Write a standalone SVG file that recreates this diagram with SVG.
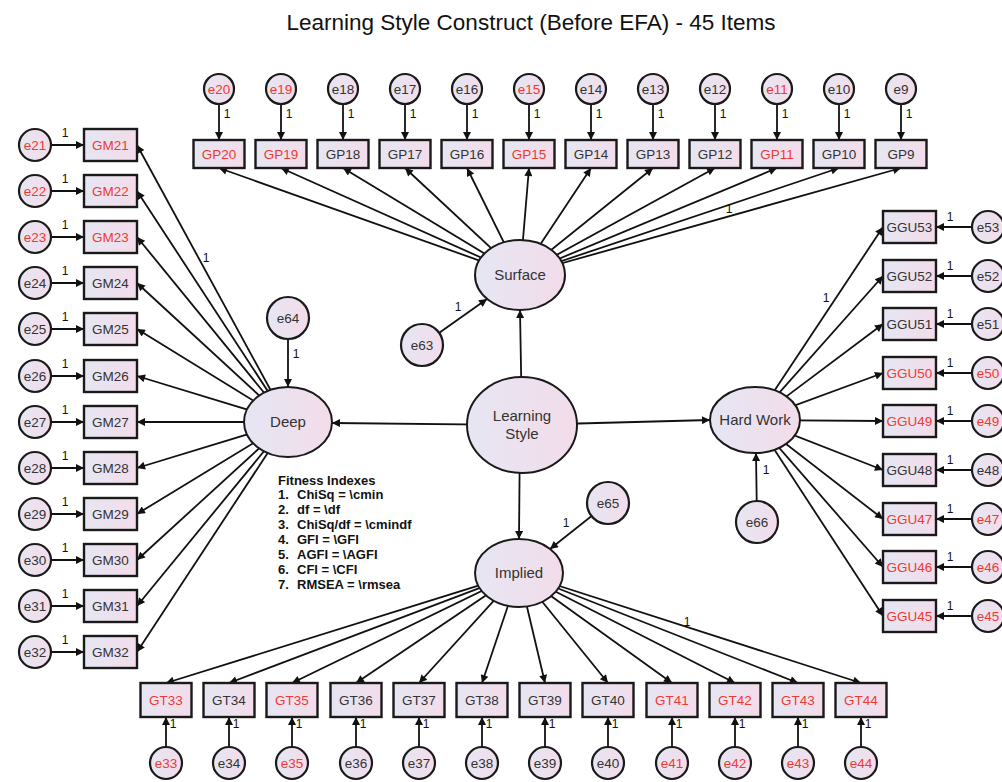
<svg xmlns="http://www.w3.org/2000/svg" width="1002" height="782" viewBox="0 0 1002 782">
<defs>
<linearGradient id="g" x1="0" y1="0" x2="1" y2="0">
<stop offset="0" stop-color="#e6e6f3"/>
<stop offset="1" stop-color="#f3dcea"/>
</linearGradient>
<marker id="ah" viewBox="0 0 10 10" refX="10" refY="5" markerWidth="11" markerHeight="8" markerUnits="userSpaceOnUse" orient="auto">
<path d="M0,0 L10,5 L0,10 z" fill="#111"/>
</marker>
<style>
.box{fill:url(#g);stroke:#1a1a1a;stroke-width:2.4}
.err{fill:url(#g);stroke:#1a1a1a;stroke-width:2.2}
.lat{fill:url(#g);stroke:#1a1a1a;stroke-width:2}
text{font-family:"Liberation Sans",Arial,sans-serif}
.t{font-size:13.5px;fill:#333;text-anchor:middle}
.r{fill:#ee3a33}
.lt{font-size:15px;fill:#333;text-anchor:middle}
.one{font-size:12px;fill:#111;text-anchor:middle}
.fit{font-size:13px;font-weight:bold;fill:#111}
#connectors line{stroke:#111;stroke-width:1.8;fill:none;marker-end:url(#ah)}
</style>
</defs>
<rect width="1002" height="782" fill="#fff"/>
<text x="531" y="30" font-size="22.5" fill="#111" text-anchor="middle">Learning Style Construct (Before EFA) - 45 Items</text>

<g id="connectors">
<line x1="522" y1="425" x2="520" y2="310"/>
<line x1="522" y1="425" x2="332" y2="423"/>
<line x1="522" y1="425" x2="710" y2="420"/>
<line x1="520" y1="425" x2="519" y2="539"/>
<line x1="422" y1="345" x2="487" y2="299"/>
<line x1="288" y1="318" x2="288" y2="387"/>
<line x1="757" y1="522" x2="756" y2="453"/>
<line x1="608" y1="503" x2="550" y2="549"/>
<line x1="520" y1="275" x2="219" y2="168"/>
<line x1="520" y1="275" x2="281" y2="168"/>
<line x1="520" y1="275" x2="343" y2="168"/>
<line x1="520" y1="275" x2="405" y2="168"/>
<line x1="520" y1="275" x2="467" y2="168"/>
<line x1="520" y1="275" x2="529" y2="168"/>
<line x1="520" y1="275" x2="591" y2="168"/>
<line x1="520" y1="275" x2="653" y2="168"/>
<line x1="520" y1="275" x2="715" y2="168"/>
<line x1="520" y1="275" x2="777" y2="168"/>
<line x1="520" y1="275" x2="839" y2="168"/>
<line x1="520" y1="275" x2="901" y2="168"/>
<line x1="288" y1="422" x2="137" y2="145"/>
<line x1="288" y1="422" x2="137" y2="191"/>
<line x1="288" y1="422" x2="137" y2="237"/>
<line x1="288" y1="422" x2="137" y2="283"/>
<line x1="288" y1="422" x2="137" y2="329"/>
<line x1="288" y1="422" x2="137" y2="376"/>
<line x1="288" y1="422" x2="137" y2="422"/>
<line x1="288" y1="422" x2="137" y2="468"/>
<line x1="288" y1="422" x2="137" y2="514"/>
<line x1="288" y1="422" x2="137" y2="560"/>
<line x1="288" y1="422" x2="137" y2="606"/>
<line x1="288" y1="422" x2="137" y2="652"/>
<line x1="755" y1="420" x2="883" y2="227"/>
<line x1="755" y1="420" x2="883" y2="276"/>
<line x1="755" y1="420" x2="883" y2="324"/>
<line x1="755" y1="420" x2="883" y2="373"/>
<line x1="755" y1="420" x2="883" y2="421"/>
<line x1="755" y1="420" x2="883" y2="470"/>
<line x1="755" y1="420" x2="883" y2="519"/>
<line x1="755" y1="420" x2="883" y2="567"/>
<line x1="755" y1="420" x2="883" y2="616"/>
<line x1="519" y1="573" x2="166" y2="683"/>
<line x1="519" y1="573" x2="229" y2="683"/>
<line x1="519" y1="573" x2="292" y2="683"/>
<line x1="519" y1="573" x2="356" y2="683"/>
<line x1="519" y1="573" x2="419" y2="683"/>
<line x1="519" y1="573" x2="482" y2="683"/>
<line x1="519" y1="573" x2="545" y2="683"/>
<line x1="519" y1="573" x2="608" y2="683"/>
<line x1="519" y1="573" x2="672" y2="683"/>
<line x1="519" y1="573" x2="735" y2="683"/>
<line x1="519" y1="573" x2="798" y2="683"/>
<line x1="519" y1="573" x2="861" y2="683"/>
<line x1="219" y1="104" x2="219" y2="140"/>
<line x1="281" y1="104" x2="281" y2="140"/>
<line x1="343" y1="104" x2="343" y2="140"/>
<line x1="405" y1="104" x2="405" y2="140"/>
<line x1="467" y1="104" x2="467" y2="140"/>
<line x1="529" y1="104" x2="529" y2="140"/>
<line x1="591" y1="104" x2="591" y2="140"/>
<line x1="653" y1="104" x2="653" y2="140"/>
<line x1="715" y1="104" x2="715" y2="140"/>
<line x1="777" y1="104" x2="777" y2="140"/>
<line x1="839" y1="104" x2="839" y2="140"/>
<line x1="901" y1="104" x2="901" y2="140"/>
<line x1="51" y1="145" x2="84" y2="145"/>
<line x1="51" y1="191" x2="84" y2="191"/>
<line x1="51" y1="237" x2="84" y2="237"/>
<line x1="51" y1="283" x2="84" y2="283"/>
<line x1="51" y1="329" x2="84" y2="329"/>
<line x1="51" y1="376" x2="84" y2="376"/>
<line x1="51" y1="422" x2="84" y2="422"/>
<line x1="51" y1="468" x2="84" y2="468"/>
<line x1="51" y1="514" x2="84" y2="514"/>
<line x1="51" y1="560" x2="84" y2="560"/>
<line x1="51" y1="606" x2="84" y2="606"/>
<line x1="51" y1="652" x2="84" y2="652"/>
<line x1="972" y1="227" x2="936" y2="227"/>
<line x1="972" y1="276" x2="936" y2="276"/>
<line x1="972" y1="324" x2="936" y2="324"/>
<line x1="972" y1="373" x2="936" y2="373"/>
<line x1="972" y1="421" x2="936" y2="421"/>
<line x1="972" y1="470" x2="936" y2="470"/>
<line x1="972" y1="519" x2="936" y2="519"/>
<line x1="972" y1="567" x2="936" y2="567"/>
<line x1="972" y1="616" x2="936" y2="616"/>
<line x1="166" y1="747" x2="166" y2="717"/>
<line x1="229" y1="747" x2="229" y2="717"/>
<line x1="292" y1="747" x2="292" y2="717"/>
<line x1="356" y1="747" x2="356" y2="717"/>
<line x1="419" y1="747" x2="419" y2="717"/>
<line x1="482" y1="747" x2="482" y2="717"/>
<line x1="545" y1="747" x2="545" y2="717"/>
<line x1="608" y1="747" x2="608" y2="717"/>
<line x1="672" y1="747" x2="672" y2="717"/>
<line x1="735" y1="747" x2="735" y2="717"/>
<line x1="798" y1="747" x2="798" y2="717"/>
<line x1="861" y1="747" x2="861" y2="717"/>
</g>

<g id="edge-labels">
<text class="one" x="458" y="311">1</text>
<text class="one" x="296" y="358">1</text>
<text class="one" x="766" y="474">1</text>
<text class="one" x="566" y="527">1</text>
<text class="one" x="206" y="262">1</text>
<text class="one" x="729" y="213">1</text>
<text class="one" x="826" y="302">1</text>
<text class="one" x="687" y="626">1</text>
<text class="one" x="227" y="118">1</text><text class="one" x="289" y="118">1</text><text class="one" x="351" y="118">1</text><text class="one" x="413" y="118">1</text><text class="one" x="475" y="118">1</text><text class="one" x="537" y="118">1</text><text class="one" x="599" y="118">1</text><text class="one" x="661" y="118">1</text><text class="one" x="723" y="118">1</text><text class="one" x="785" y="118">1</text><text class="one" x="847" y="118">1</text><text class="one" x="909" y="118">1</text>
<text class="one" x="65" y="137">1</text><text class="one" x="65" y="183">1</text><text class="one" x="65" y="229">1</text><text class="one" x="65" y="275">1</text><text class="one" x="65" y="321">1</text><text class="one" x="65" y="368">1</text><text class="one" x="65" y="414">1</text><text class="one" x="65" y="460">1</text><text class="one" x="65" y="506">1</text><text class="one" x="65" y="552">1</text><text class="one" x="65" y="598">1</text><text class="one" x="65" y="644">1</text>
<text class="one" x="950" y="221">1</text><text class="one" x="950" y="270">1</text><text class="one" x="950" y="318">1</text><text class="one" x="950" y="367">1</text><text class="one" x="950" y="415">1</text><text class="one" x="950" y="464">1</text><text class="one" x="950" y="513">1</text><text class="one" x="950" y="561">1</text><text class="one" x="950" y="610">1</text>
<text class="one" x="173" y="728">1</text><text class="one" x="236" y="728">1</text><text class="one" x="299" y="728">1</text><text class="one" x="363" y="728">1</text><text class="one" x="426" y="728">1</text><text class="one" x="489" y="728">1</text><text class="one" x="552" y="728">1</text><text class="one" x="615" y="728">1</text><text class="one" x="679" y="728">1</text><text class="one" x="742" y="728">1</text><text class="one" x="805" y="728">1</text><text class="one" x="868" y="728">1</text>
</g>

<g id="learning-style"><ellipse class="lat" cx="522" cy="425" rx="55" ry="48"/><text class="lt" x="522" y="421">Learning</text><text class="lt" x="522" y="439">Style</text></g>
<g id="surface"><ellipse class="lat" cx="520" cy="275" rx="45" ry="35"/><text class="lt" x="520" y="280">Surface</text></g>
<g id="deep"><ellipse class="lat" cx="288" cy="422" rx="44" ry="35"/><text class="lt" x="288" y="427">Deep</text></g>
<g id="hard-work"><ellipse class="lat" cx="755" cy="420" rx="45" ry="33"/><text class="lt" x="755" y="425">Hard Work</text></g>
<g id="implied"><ellipse class="lat" cx="519" cy="573" rx="44" ry="34"/><text class="lt" x="519" y="578">Implied</text></g>
<g id="e63"><circle class="err" cx="422" cy="345" r="21"/><text class="t" x="422" y="350">e63</text></g>
<g id="e64"><circle class="err" cx="288" cy="318" r="21"/><text class="t" x="288" y="323">e64</text></g>
<g id="e65"><circle class="err" cx="608" cy="503" r="21"/><text class="t" x="608" y="508">e65</text></g>
<g id="e66"><circle class="err" cx="757" cy="522" r="21"/><text class="t" x="757" y="527">e66</text></g>

<g id="GP20"><rect class="box" x="193.5" y="140" width="51" height="28"/><text class="t r" x="219" y="158.5">GP20</text></g>
<g id="GP19"><rect class="box" x="255.5" y="140" width="51" height="28"/><text class="t r" x="281" y="158.5">GP19</text></g>
<g id="GP18"><rect class="box" x="317.5" y="140" width="51" height="28"/><text class="t" x="343" y="158.5">GP18</text></g>
<g id="GP17"><rect class="box" x="379.5" y="140" width="51" height="28"/><text class="t" x="405" y="158.5">GP17</text></g>
<g id="GP16"><rect class="box" x="441.5" y="140" width="51" height="28"/><text class="t" x="467" y="158.5">GP16</text></g>
<g id="GP15"><rect class="box" x="503.5" y="140" width="51" height="28"/><text class="t r" x="529" y="158.5">GP15</text></g>
<g id="GP14"><rect class="box" x="565.5" y="140" width="51" height="28"/><text class="t" x="591" y="158.5">GP14</text></g>
<g id="GP13"><rect class="box" x="627.5" y="140" width="51" height="28"/><text class="t" x="653" y="158.5">GP13</text></g>
<g id="GP12"><rect class="box" x="689.5" y="140" width="51" height="28"/><text class="t" x="715" y="158.5">GP12</text></g>
<g id="GP11"><rect class="box" x="751.5" y="140" width="51" height="28"/><text class="t r" x="777" y="158.5">GP11</text></g>
<g id="GP10"><rect class="box" x="813.5" y="140" width="51" height="28"/><text class="t" x="839" y="158.5">GP10</text></g>
<g id="GP9"><rect class="box" x="875.5" y="140" width="51" height="28"/><text class="t" x="901" y="158.5">GP9</text></g>
<g id="e20"><circle class="err" cx="219" cy="89" r="15"/><text class="t r" x="219" y="93.5">e20</text></g>
<g id="e19"><circle class="err" cx="281" cy="89" r="15"/><text class="t r" x="281" y="93.5">e19</text></g>
<g id="e18"><circle class="err" cx="343" cy="89" r="15"/><text class="t" x="343" y="93.5">e18</text></g>
<g id="e17"><circle class="err" cx="405" cy="89" r="15"/><text class="t" x="405" y="93.5">e17</text></g>
<g id="e16"><circle class="err" cx="467" cy="89" r="15"/><text class="t" x="467" y="93.5">e16</text></g>
<g id="e15"><circle class="err" cx="529" cy="89" r="15"/><text class="t r" x="529" y="93.5">e15</text></g>
<g id="e14"><circle class="err" cx="591" cy="89" r="15"/><text class="t" x="591" y="93.5">e14</text></g>
<g id="e13"><circle class="err" cx="653" cy="89" r="15"/><text class="t" x="653" y="93.5">e13</text></g>
<g id="e12"><circle class="err" cx="715" cy="89" r="15"/><text class="t" x="715" y="93.5">e12</text></g>
<g id="e11"><circle class="err" cx="777" cy="89" r="15"/><text class="t r" x="777" y="93.5">e11</text></g>
<g id="e10"><circle class="err" cx="839" cy="89" r="15"/><text class="t" x="839" y="93.5">e10</text></g>
<g id="e9"><circle class="err" cx="901" cy="89" r="15"/><text class="t" x="901" y="93.5">e9</text></g>

<g id="GM21"><rect class="box" x="84" y="129" width="53" height="32"/><text class="t r" x="110.5" y="149.5">GM21</text></g>
<g id="GM22"><rect class="box" x="84" y="175" width="53" height="32"/><text class="t r" x="110.5" y="195.5">GM22</text></g>
<g id="GM23"><rect class="box" x="84" y="221" width="53" height="32"/><text class="t r" x="110.5" y="241.5">GM23</text></g>
<g id="GM24"><rect class="box" x="84" y="267" width="53" height="32"/><text class="t" x="110.5" y="287.5">GM24</text></g>
<g id="GM25"><rect class="box" x="84" y="313" width="53" height="32"/><text class="t" x="110.5" y="333.5">GM25</text></g>
<g id="GM26"><rect class="box" x="84" y="360" width="53" height="32"/><text class="t" x="110.5" y="380.5">GM26</text></g>
<g id="GM27"><rect class="box" x="84" y="406" width="53" height="32"/><text class="t" x="110.5" y="426.5">GM27</text></g>
<g id="GM28"><rect class="box" x="84" y="452" width="53" height="32"/><text class="t" x="110.5" y="472.5">GM28</text></g>
<g id="GM29"><rect class="box" x="84" y="498" width="53" height="32"/><text class="t" x="110.5" y="518.5">GM29</text></g>
<g id="GM30"><rect class="box" x="84" y="544" width="53" height="32"/><text class="t" x="110.5" y="564.5">GM30</text></g>
<g id="GM31"><rect class="box" x="84" y="590" width="53" height="32"/><text class="t" x="110.5" y="610.5">GM31</text></g>
<g id="GM32"><rect class="box" x="84" y="636" width="53" height="32"/><text class="t" x="110.5" y="656.5">GM32</text></g>
<g id="e21"><circle class="err" cx="35" cy="145" r="16"/><text class="t r" x="35" y="149.5">e21</text></g>
<g id="e22"><circle class="err" cx="35" cy="191" r="16"/><text class="t r" x="35" y="195.5">e22</text></g>
<g id="e23"><circle class="err" cx="35" cy="237" r="16"/><text class="t r" x="35" y="241.5">e23</text></g>
<g id="e24"><circle class="err" cx="35" cy="283" r="16"/><text class="t" x="35" y="287.5">e24</text></g>
<g id="e25"><circle class="err" cx="35" cy="329" r="16"/><text class="t" x="35" y="333.5">e25</text></g>
<g id="e26"><circle class="err" cx="35" cy="376" r="16"/><text class="t" x="35" y="380.5">e26</text></g>
<g id="e27"><circle class="err" cx="35" cy="422" r="16"/><text class="t" x="35" y="426.5">e27</text></g>
<g id="e28"><circle class="err" cx="35" cy="468" r="16"/><text class="t" x="35" y="472.5">e28</text></g>
<g id="e29"><circle class="err" cx="35" cy="514" r="16"/><text class="t" x="35" y="518.5">e29</text></g>
<g id="e30"><circle class="err" cx="35" cy="560" r="16"/><text class="t" x="35" y="564.5">e30</text></g>
<g id="e31"><circle class="err" cx="35" cy="606" r="16"/><text class="t" x="35" y="610.5">e31</text></g>
<g id="e32"><circle class="err" cx="35" cy="652" r="16"/><text class="t" x="35" y="656.5">e32</text></g>

<g id="GGU53"><rect class="box" x="883" y="211" width="53" height="32"/><text class="t" x="909.5" y="231.5">GGU53</text></g>
<g id="GGU52"><rect class="box" x="883" y="260" width="53" height="32"/><text class="t" x="909.5" y="280.5">GGU52</text></g>
<g id="GGU51"><rect class="box" x="883" y="308" width="53" height="32"/><text class="t" x="909.5" y="328.5">GGU51</text></g>
<g id="GGU50"><rect class="box" x="883" y="357" width="53" height="32"/><text class="t r" x="909.5" y="377.5">GGU50</text></g>
<g id="GGU49"><rect class="box" x="883" y="405" width="53" height="32"/><text class="t r" x="909.5" y="425.5">GGU49</text></g>
<g id="GGU48"><rect class="box" x="883" y="454" width="53" height="32"/><text class="t" x="909.5" y="474.5">GGU48</text></g>
<g id="GGU47"><rect class="box" x="883" y="503" width="53" height="32"/><text class="t r" x="909.5" y="523.5">GGU47</text></g>
<g id="GGU46"><rect class="box" x="883" y="551" width="53" height="32"/><text class="t r" x="909.5" y="571.5">GGU46</text></g>
<g id="GGU45"><rect class="box" x="883" y="600" width="53" height="32"/><text class="t r" x="909.5" y="620.5">GGU45</text></g>
<g id="e53"><circle class="err" cx="988" cy="227" r="16"/><text class="t" x="988" y="231.5">e53</text></g>
<g id="e52"><circle class="err" cx="988" cy="276" r="16"/><text class="t" x="988" y="280.5">e52</text></g>
<g id="e51"><circle class="err" cx="988" cy="324" r="16"/><text class="t" x="988" y="328.5">e51</text></g>
<g id="e50"><circle class="err" cx="988" cy="373" r="16"/><text class="t r" x="988" y="377.5">e50</text></g>
<g id="e49"><circle class="err" cx="988" cy="421" r="16"/><text class="t r" x="988" y="425.5">e49</text></g>
<g id="e48"><circle class="err" cx="988" cy="470" r="16"/><text class="t" x="988" y="474.5">e48</text></g>
<g id="e47"><circle class="err" cx="988" cy="519" r="16"/><text class="t r" x="988" y="523.5">e47</text></g>
<g id="e46"><circle class="err" cx="988" cy="567" r="16"/><text class="t r" x="988" y="571.5">e46</text></g>
<g id="e45"><circle class="err" cx="988" cy="616" r="16"/><text class="t r" x="988" y="620.5">e45</text></g>

<g id="GT33"><rect class="box" x="140.5" y="683" width="51" height="34"/><text class="t r" x="166" y="704.5">GT33</text></g>
<g id="GT34"><rect class="box" x="203.5" y="683" width="51" height="34"/><text class="t" x="229" y="704.5">GT34</text></g>
<g id="GT35"><rect class="box" x="266.5" y="683" width="51" height="34"/><text class="t r" x="292" y="704.5">GT35</text></g>
<g id="GT36"><rect class="box" x="330.5" y="683" width="51" height="34"/><text class="t" x="356" y="704.5">GT36</text></g>
<g id="GT37"><rect class="box" x="393.5" y="683" width="51" height="34"/><text class="t" x="419" y="704.5">GT37</text></g>
<g id="GT38"><rect class="box" x="456.5" y="683" width="51" height="34"/><text class="t" x="482" y="704.5">GT38</text></g>
<g id="GT39"><rect class="box" x="519.5" y="683" width="51" height="34"/><text class="t" x="545" y="704.5">GT39</text></g>
<g id="GT40"><rect class="box" x="582.5" y="683" width="51" height="34"/><text class="t" x="608" y="704.5">GT40</text></g>
<g id="GT41"><rect class="box" x="646.5" y="683" width="51" height="34"/><text class="t r" x="672" y="704.5">GT41</text></g>
<g id="GT42"><rect class="box" x="709.5" y="683" width="51" height="34"/><text class="t r" x="735" y="704.5">GT42</text></g>
<g id="GT43"><rect class="box" x="772.5" y="683" width="51" height="34"/><text class="t r" x="798" y="704.5">GT43</text></g>
<g id="GT44"><rect class="box" x="835.5" y="683" width="51" height="34"/><text class="t r" x="861" y="704.5">GT44</text></g>
<g id="e33"><circle class="err" cx="166" cy="763" r="16"/><text class="t r" x="166" y="767.5">e33</text></g>
<g id="e34"><circle class="err" cx="229" cy="763" r="16"/><text class="t" x="229" y="767.5">e34</text></g>
<g id="e35"><circle class="err" cx="292" cy="763" r="16"/><text class="t r" x="292" y="767.5">e35</text></g>
<g id="e36"><circle class="err" cx="356" cy="763" r="16"/><text class="t" x="356" y="767.5">e36</text></g>
<g id="e37"><circle class="err" cx="419" cy="763" r="16"/><text class="t" x="419" y="767.5">e37</text></g>
<g id="e38"><circle class="err" cx="482" cy="763" r="16"/><text class="t" x="482" y="767.5">e38</text></g>
<g id="e39"><circle class="err" cx="545" cy="763" r="16"/><text class="t" x="545" y="767.5">e39</text></g>
<g id="e40"><circle class="err" cx="608" cy="763" r="16"/><text class="t" x="608" y="767.5">e40</text></g>
<g id="e41"><circle class="err" cx="672" cy="763" r="16"/><text class="t r" x="672" y="767.5">e41</text></g>
<g id="e42"><circle class="err" cx="735" cy="763" r="16"/><text class="t r" x="735" y="767.5">e42</text></g>
<g id="e43"><circle class="err" cx="798" cy="763" r="16"/><text class="t r" x="798" y="767.5">e43</text></g>
<g id="e44"><circle class="err" cx="861" cy="763" r="16"/><text class="t r" x="861" y="767.5">e44</text></g>

<g id="fitness">
<text class="fit" x="278" y="485">Fitness Indexes</text>
<text class="fit" x="278" y="499">1.</text><text class="fit" x="297" y="499">ChiSq = \cmin</text>
<text class="fit" x="278" y="514">2.</text><text class="fit" x="297" y="514">df = \df</text>
<text class="fit" x="278" y="529">3.</text><text class="fit" x="297" y="529">ChiSq/df = \cmindf</text>
<text class="fit" x="278" y="544">4.</text><text class="fit" x="297" y="544">GFI = \GFI</text>
<text class="fit" x="278" y="559">5.</text><text class="fit" x="297" y="559">AGFI = \AGFI</text>
<text class="fit" x="278" y="574">6.</text><text class="fit" x="297" y="574">CFI = \CFI</text>
<text class="fit" x="278" y="589">7.</text><text class="fit" x="297" y="589">RMSEA = \rmsea</text>
</g>
</svg>
